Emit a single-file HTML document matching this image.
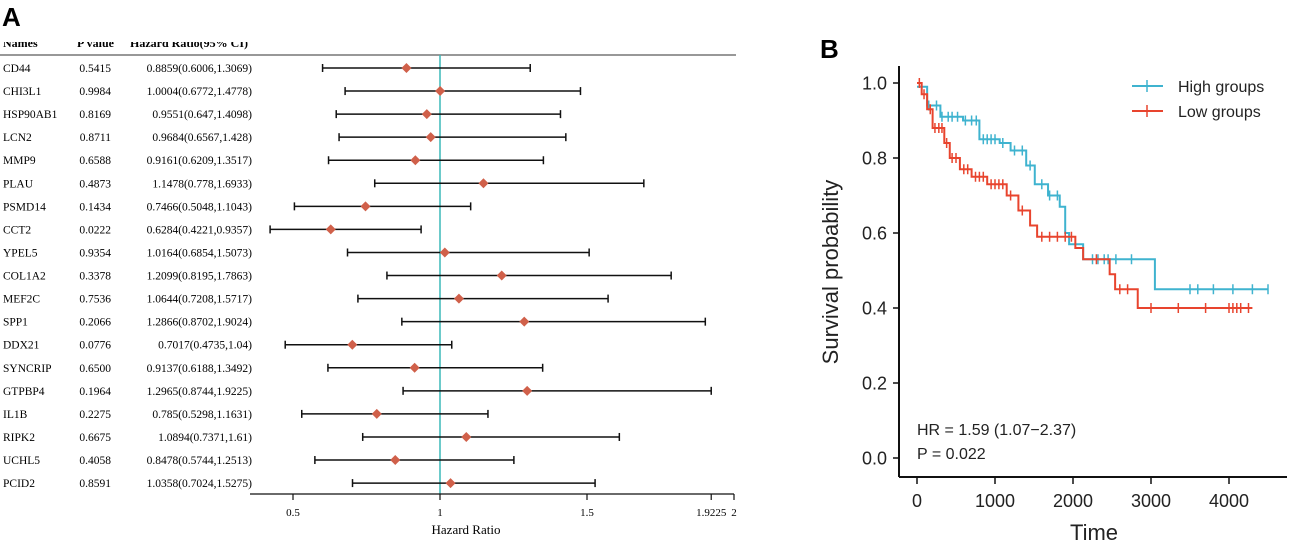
<!DOCTYPE html>
<html><head><meta charset="utf-8"><style>
html,body{margin:0;padding:0;background:#fff;width:1290px;height:546px;overflow:hidden}
svg{display:block}
</style></head><body>
<svg id="fig" width="1290" height="546" xmlns="http://www.w3.org/2000/svg">
<text x="2" y="26" font-family="Liberation Sans, sans-serif" font-weight="bold" font-size="26">A</text>
<text x="820" y="58" font-family="Liberation Sans, sans-serif" font-weight="bold" font-size="26">B</text>
<g id="forest"></g>
<g id="km"></g>
</svg>
<script>
const names=["CD44","CHI3L1","HSP90AB1","LCN2","MMP9","PLAU","PSMD14","CCT2","YPEL5","COL1A2","MEF2C","SPP1","DDX21","SYNCRIP","GTPBP4","IL1B","RIPK2","UCHL5","PCID2"];
const pvals=["0.5415","0.9984","0.8169","0.8711","0.6588","0.4873","0.1434","0.0222","0.9354","0.3378","0.7536","0.2066","0.0776","0.6500","0.1964","0.2275","0.6675","0.4058","0.8591"];
const hr=[0.8859,1.0004,0.9551,0.9684,0.9161,1.1478,0.7466,0.6284,1.0164,1.2099,1.0644,1.2866,0.7017,0.9137,1.2965,0.785,1.0894,0.8478,1.0358];
const lo=[0.6006,0.6772,0.647,0.6567,0.6209,0.778,0.5048,0.4221,0.6854,0.8195,0.7208,0.8702,0.4735,0.6188,0.8744,0.5298,0.7371,0.5744,0.7024];
const hi=[1.3069,1.4778,1.4098,1.428,1.3517,1.6933,1.1043,0.9357,1.5073,1.7863,1.5717,1.9024,1.04,1.3492,1.9225,1.1631,1.61,1.2513,1.5275];
const hrText=["0.8859(0.6006,1.3069)","1.0004(0.6772,1.4778)","0.9551(0.647,1.4098)","0.9684(0.6567,1.428)","0.9161(0.6209,1.3517)","1.1478(0.778,1.6933)","0.7466(0.5048,1.1043)","0.6284(0.4221,0.9357)","1.0164(0.6854,1.5073)","1.2099(0.8195,1.7863)","1.0644(0.7208,1.5717)","1.2866(0.8702,1.9024)","0.7017(0.4735,1.04)","0.9137(0.6188,1.3492)","1.2965(0.8744,1.9225)","0.785(0.5298,1.1631)","1.0894(0.7371,1.61)","0.8478(0.5744,1.2513)","1.0358(0.7024,1.5275)"];
const fTicks=[0.5,1,1.5,1.9225,2];
const fTickLabels=["0.5","1","1.5","1.9225","2"];

const highT=[0,130,300,590,800,1060,1200,1400,1510,1680,1830,1900,1950,2130,3050,4500];
const highS=[0.99,0.94,0.91,0.90,0.85,0.84,0.82,0.78,0.73,0.70,0.67,0.60,0.57,0.53,0.45,0.45];
const lowT=[0,60,130,200,350,420,550,700,900,1150,1300,1450,1540,2030,2130,2470,2540,2830,4300];
const lowS=[1.0,0.97,0.93,0.88,0.84,0.80,0.77,0.75,0.73,0.70,0.66,0.62,0.59,0.56,0.53,0.49,0.45,0.40,0.40];
const highCens=[150,250,320,400,450,520,620,700,760,850,900,950,1000,1100,1250,1350,1450,1600,1700,1800,2250,2320,2400,2450,2550,2750,3500,3600,3800,4050,4300,4500];
const lowCens=[30,90,170,230,280,320,380,450,500,600,650,750,800,850,950,1000,1050,1100,1200,1350,1600,1700,1800,1900,1980,2300,2600,2700,3000,3350,3700,4000,4050,4100,4150,4250];
const kmYTicks=[0,0.2,0.4,0.6,0.8,1.0];
const kmYLabels=["0.0","0.2","0.4","0.6","0.8","1.0"];
const kmXTicks=[0,1000,2000,3000,4000];
const kmXLabels=["0","1000","2000","3000","4000"];

const NS="http://www.w3.org/2000/svg";
function mk(parent,tag,attrs,text){const e=document.createElementNS(NS,tag);for(const k in attrs)e.setAttribute(k,attrs[k]);if(text!==undefined)e.textContent=text;parent.appendChild(e);return e;}

const F=document.getElementById('forest');
const fx=v=>440+(v-1)*294;
const fy=i=>68+i*23.06;
const serif="Liberation Serif, serif";
let e;
e=mk(F,'text',{x:3,y:47,'font-family':serif,'font-size':12,'font-weight':'bold'},"Names");


e=mk(F,'text',{x:77,y:47,'font-family':serif,'font-size':12,'font-weight':'bold'},"P value");


e=mk(F,'text',{x:130,y:47,'font-family':serif,'font-size':12,'font-weight':'bold'},"Hazard Ratio(95% CI)");


e=mk(F,'rect',{x:0,y:34,width:260,height:8,fill:'#fff'});


e=mk(F,'line',{x1:0,y1:55,x2:736,y2:55,stroke:'#777','stroke-width':1.5});


e=mk(F,'line',{x1:fx(1),y1:55,x2:fx(1),y2:494,stroke:'#3bb8b8','stroke-width':1.5});


for(let i=0;i<names.length;i++){
  const y=fy(i);
  e=mk(F,'text',{x:3,y:y+4,'font-family':serif,'font-size':11.5},names[i]);
  
  
  e=mk(F,'text',{x:111,y:y+4,'font-family':serif,'font-size':11.5,'text-anchor':'end'},pvals[i]);
  
  
  e=mk(F,'text',{x:252,y:y+4,'font-family':serif,'font-size':11.5,'text-anchor':'end'},hrText[i]);
  
  
  const g=mk(F,'g',{});
  
  
  mk(g,'line',{x1:fx(lo[i]),y1:y,x2:fx(hi[i]),y2:y,stroke:'#111','stroke-width':1.5});
  mk(g,'line',{x1:fx(lo[i]),y1:y-4,x2:fx(lo[i]),y2:y+4,stroke:'#111','stroke-width':1.5});
  mk(g,'line',{x1:fx(hi[i]),y1:y-4,x2:fx(hi[i]),y2:y+4,stroke:'#111','stroke-width':1.5});
  const cx=fx(hr[i]);
  e=mk(g,'polygon',{points:`${cx},${y-5} ${cx+5},${y} ${cx},${y+5} ${cx-5},${y}`,fill:'#d0604a'});
  
  
}
e=mk(F,'line',{x1:250,y1:494,x2:fx(2),y2:494,stroke:'#111','stroke-width':1.2});


fTicks.forEach((t,i)=>{
  mk(F,'line',{x1:fx(t),y1:494,x2:fx(t),y2:500,stroke:'#111','stroke-width':1.2});
  e=mk(F,'text',{x:fx(t),y:516,'font-family':serif,'font-size':11,'text-anchor':'middle'},fTickLabels[i]);
  
  
});
e=mk(F,'text',{x:466,y:534,'font-family':serif,'font-size':13,'text-anchor':'middle'},"Hazard Ratio");



const K=document.getElementById('km');
const sans="Liberation Sans, sans-serif";
const kx=t=>917+t*0.078;
const ky=s=>458-s*375;
e=mk(K,'line',{x1:899,y1:66,x2:899,y2:477,stroke:'#111','stroke-width':2});


e=mk(K,'line',{x1:899,y1:477,x2:1287,y2:477,stroke:'#111','stroke-width':2});


kmYTicks.forEach((t,i)=>{
  mk(K,'line',{x1:893,y1:ky(t),x2:899,y2:ky(t),stroke:'#111','stroke-width':1.5});
  e=mk(K,'text',{x:887,y:ky(t)+6.5,'font-family':sans,'font-size':18,'text-anchor':'end',fill:'#222'},kmYLabels[i]);
  
  
});
kmXTicks.forEach((t,i)=>{
  mk(K,'line',{x1:kx(t),y1:477,x2:kx(t),y2:484,stroke:'#111','stroke-width':1.5});
  e=mk(K,'text',{x:kx(t),y:507,'font-family':sans,'font-size':18,'text-anchor':'middle',fill:'#222'},kmXLabels[i]);
  
  
});
e=mk(K,'text',{x:1094,y:540,'font-family':sans,'font-size':22,'text-anchor':'middle',fill:'#222'},"Time");


e=mk(K,'text',{x:838,y:272,'font-family':sans,'font-size':22,'text-anchor':'middle',fill:'#222',transform:'rotate(-90 838 272)'},"Survival probability");


function stepVal(T,S,t){let v=S[0];for(let i=0;i<T.length;i++){if(T[i]<=t)v=S[i];}return v;}
function drawCurve(T,S,C,col,name){
  let d=`M${kx(T[0])},${ky(S[0])}`;
  for(let i=1;i<T.length;i++){d+=` H${kx(T[i])} V${ky(S[i])}`;}
  e=mk(K,'path',{d:d,fill:'none',stroke:col,'stroke-width':2});
  
  
  C.forEach(t=>{
    if(t>T[T.length-1])return;
    const y=ky(stepVal(T,S,t));
    e=mk(K,'line',{x1:kx(t),y1:y-5,x2:kx(t),y2:y+5,stroke:col,'stroke-width':1.5});
    
    
  });
}
drawCurve(highT,highS,highCens,'#3fb3cf','high-group');
drawCurve(lowT,lowS,lowCens,'#e8442e','low-group');
[["High groups",'#3fb3cf',86],["Low groups",'#e8442e',111]].forEach(([lab,col,y])=>{
  const g=mk(K,'g',{});
  
  
  mk(g,'line',{x1:1132,y1:y,x2:1163,y2:y,stroke:col,'stroke-width':2});
  mk(g,'line',{x1:1147,y1:y-6,x2:1147,y2:y+6,stroke:col,'stroke-width':1.5});
  mk(g,'text',{x:1178,y:y+6,'font-family':sans,'font-size':16,fill:'#222'},lab);
});
e=mk(K,'text',{x:917,y:435,'font-family':sans,'font-size':16,fill:'#222'},"HR = 1.59 (1.07\u22122.37)");


e=mk(K,'text',{x:917,y:459,'font-family':sans,'font-size':16,fill:'#222'},"P = 0.022");


</script>
</body></html>
